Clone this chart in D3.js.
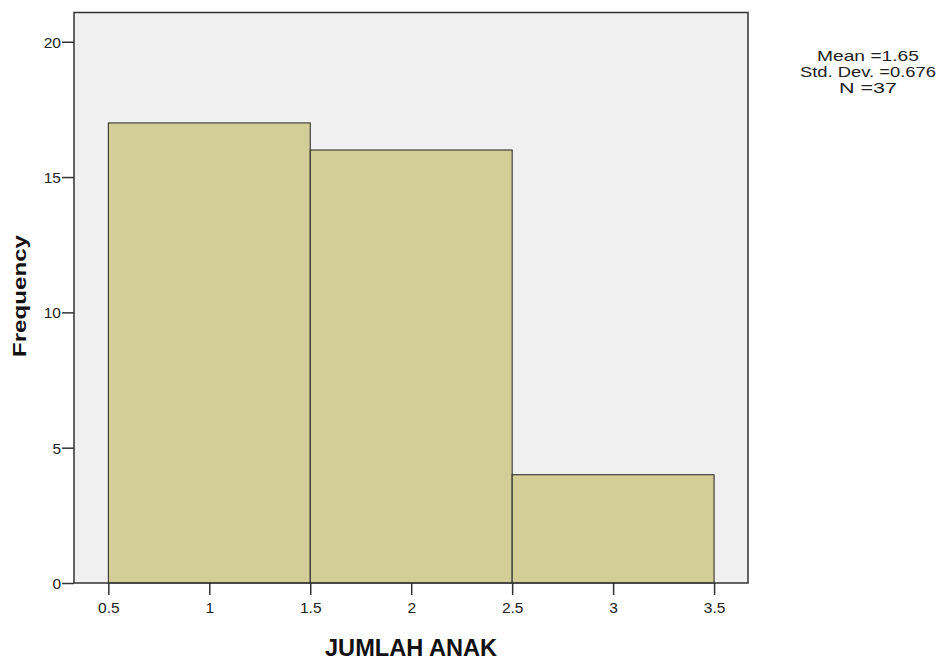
<!DOCTYPE html>
<html><head><meta charset="utf-8">
<script src="https://cdn.jsdelivr.net/npm/d3@7"></script>
<style>
body{margin:0;background:#fff;}
text{font-family:Arial,"Liberation Sans",sans-serif;}
</style></head>
<body><svg id="c" width="938" height="659"></svg>
<script>
const binStarts = [0.5, 1.5, 2.5];
const binEnds = [1.5, 2.5, 3.5];
const frequencies = [17, 16, 4];
const xTicks = [0.5, 1, 1.5, 2, 2.5, 3, 3.5];
const yTicks = [0, 5, 10, 15, 20];
const statsLines = ["Mean =1.65", "Std. Dev. =0.676", "N =37"];
const xTitle = "JUMLAH ANAK";
const yTitle = "Frequency";

const svg = d3.select("#c");
const L = 74, R = 748, T = 12.5, B = 583;
const x = d3.scaleLinear().domain([0.33, 3.668]).range([L, R]);
const y = d3.scaleLinear().domain([0, 21.08]).range([B, T]);

svg.append("rect").attr("x", L).attr("y", T).attr("width", R - L).attr("height", B - T)
  .attr("fill", "#f0f0f0");

svg.selectAll("rect.bar").data(frequencies).enter().append("rect").attr("class", "bar")
  .attr("x", (d, i) => x(binStarts[i]))
  .attr("y", d => y(d))
  .attr("width", (d, i) => x(binEnds[i]) - x(binStarts[i]))
  .attr("height", d => y(0) - y(d))
  .attr("fill", "#d3ce98").attr("stroke", "#222").attr("stroke-width", 1);

svg.append("rect").attr("x", L).attr("y", T).attr("width", R - L).attr("height", B - T)
  .attr("fill", "none").attr("stroke", "#333").attr("stroke-width", 1.5);

const xAxis = svg.append("g").attr("transform", `translate(0,${B})`)
  .call(d3.axisBottom(x).tickValues(xTicks).tickFormat(d => String(d)).tickSize(12).tickSizeOuter(0));
const yAxis = svg.append("g").attr("transform", `translate(${L},0)`)
  .call(d3.axisLeft(y).tickValues(yTicks).tickFormat(d => String(d)).tickSize(12).tickSizeOuter(0));
[xAxis, yAxis].forEach(g => {
  g.select(".domain").remove();
  g.selectAll("line").attr("stroke", "#333").attr("stroke-width", 1.5);
  g.selectAll("text").attr("fill", "#222").style("font-size", "15.5px")
    .style("font-family", "Arial, 'Liberation Sans', sans-serif");
});
xAxis.selectAll("text").attr("dy", null).attr("y", 30);
yAxis.selectAll("text").attr("x", -13).attr("dy", "0.36em");

svg.append("text").attr("x", (L + R) / 2).attr("y", 655.5).attr("text-anchor", "middle")
  .attr("textLength", 172).attr("lengthAdjust", "spacingAndGlyphs")
  .style("font-size", "24px").style("font-weight", "bold").attr("fill", "#111").text(xTitle);
svg.append("text").attr("transform", `translate(26,296) rotate(-90)`).attr("text-anchor", "middle")
  .attr("textLength", 122).attr("lengthAdjust", "spacingAndGlyphs")
  .style("font-size", "18px").style("font-weight", "bold").attr("fill", "#111").text(yTitle);

const statWidths = [102, 136, 58];
svg.selectAll("text.stat").data(statsLines).enter().append("text").attr("class", "stat")
  .attr("x", 868).attr("y", (d, i) => 61 + i * 16).attr("text-anchor", "middle")
  .attr("textLength", (d, i) => statWidths[i]).attr("lengthAdjust", "spacingAndGlyphs")
  .style("font-size", "15px").attr("fill", "#222").text(d => d);
</script></body></html>
